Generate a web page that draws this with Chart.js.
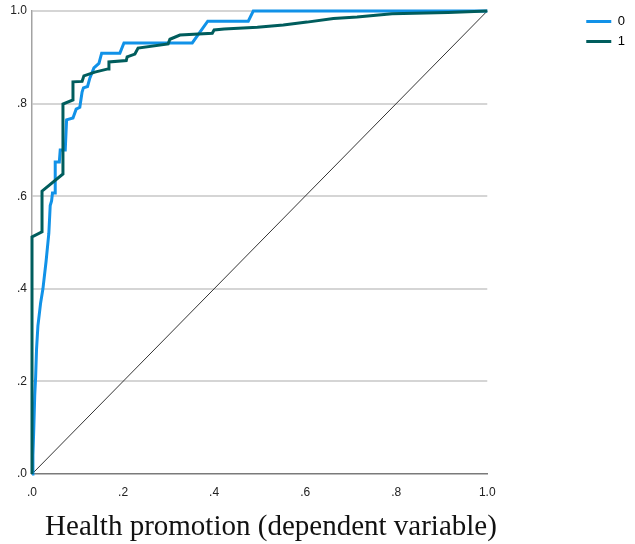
<!DOCTYPE html>
<html>
<head>
<meta charset="utf-8">
<script src="https://cdn.jsdelivr.net/npm/chart.js@4/dist/chart.umd.min.js"></script>
<style>
  html, body { margin: 0; padding: 0; background: #fff; }
  #wrap { position: relative; width: 635px; height: 544px; }
  #roc { position: absolute; left: 0; top: 0; }
  #caption {
    position: absolute; left: 0; top: 511px; width: 542px;
    text-align: center; white-space: nowrap;
    font-family: "Liberation Serif", "Times New Roman", serif;
    font-size: 29px; line-height: 28px; color: #111;
  }
</style>
</head>
<body>
<div id="wrap">
  <canvas id="roc" width="635" height="544"></canvas>
  <div id="caption">Health promotion (dependent variable)</div>
</div>
<script>
// ROC curves: 1 - specificity (x) against sensitivity (y) for each group
const seriesNames = ['0', '1'];

const fpr0 = [0, 0.002, 0.004, 0.006, 0.008, 0.010, 0.013, 0.019, 0.024, 0.031, 0.037, 0.040, 0.043, 0.045,
  0.051, 0.051, 0.060, 0.062, 0.073, 0.076, 0.090, 0.097, 0.105, 0.110, 0.113, 0.122, 0.127, 0.136,
  0.147, 0.153, 0.193, 0.202, 0.352, 0.386, 0.475, 0.486, 1];
const tpr0 = [0, 0.04, 0.10, 0.17, 0.21, 0.27, 0.32, 0.37, 0.40, 0.46, 0.52, 0.58, 0.59, 0.607,
  0.607, 0.674, 0.674, 0.70, 0.70, 0.765, 0.769, 0.788, 0.792, 0.825, 0.834, 0.837, 0.855, 0.877,
  0.887, 0.909, 0.909, 0.931, 0.931, 0.978, 0.978, 1.0, 1];

const fpr1 = [0, 0, 0.022, 0.022, 0.068, 0.068, 0.090, 0.090, 0.110, 0.114, 0.138, 0.167, 0.169, 0.207,
  0.209, 0.226, 0.233, 0.299, 0.303, 0.325, 0.396, 0.400, 0.422, 0.495, 0.552, 0.604, 0.662, 0.714,
  0.791, 0.914, 1];
const tpr1 = [0, 0.512, 0.523, 0.611, 0.648, 0.799, 0.808, 0.847, 0.848, 0.860, 0.868, 0.875, 0.890, 0.893,
  0.901, 0.907, 0.920, 0.929, 0.939, 0.948, 0.952, 0.959, 0.961, 0.965, 0.970, 0.976, 0.984, 0.987,
  0.994, 0.997, 1];

// reference line of no discrimination
const refX = [0, 1];
const refY = [0, 1];

const xTickLabels = ['.0', '.2', '.4', '.6', '.8', '1.0'];
const yTickLabels = ['.0', '.2', '.4', '.6', '.8', '1.0'];

const toPoints = (xs, ys) => xs.map((x, i) => ({ x: x, y: ys[i] }));

const tickFont = { family: '"Liberation Sans", Arial, sans-serif', size: 12 };

new Chart(document.getElementById('roc'), {
  type: 'line',
  data: {
    datasets: [
      {
        label: seriesNames[0],
        data: toPoints(fpr0, tpr0),
        borderColor: '#1192e8',
        backgroundColor: '#1192e8',
        borderWidth: 3,
        order: 2
      },
      {
        label: seriesNames[1],
        data: toPoints(fpr1, tpr1),
        borderColor: '#005d5d',
        backgroundColor: '#005d5d',
        borderWidth: 3,
        order: 1
      },
      {
        label: 'reference',
        data: toPoints(refX, refY),
        borderColor: '#333333',
        borderWidth: 1,
        order: 3
      }
    ]
  },
  options: {
    responsive: false,
    animation: false,
    devicePixelRatio: 1,
    layout: { padding: { top: 8, left: 0, right: 0, bottom: 0 } },
    elements: {
      point: { radius: 0, hoverRadius: 0 },
      line: { tension: 0, fill: false, borderCapStyle: 'butt', borderJoinStyle: 'miter' }
    },
    datasets: { line: { clip: 6 } },
    scales: {
      x: {
        type: 'linear',
        min: 0,
        max: 1,
        grid: { display: false },
        border: { display: true, color: '#7a7a7a', width: 1.5 },
        ticks: {
          stepSize: 0.2,
          padding: 3,
          color: '#222',
          font: tickFont,
          maxRotation: 0,
          callback: (v, i) => xTickLabels[i]
        },
        afterFit: (s) => { s.height = 70; }
      },
      y: {
        type: 'linear',
        min: 0,
        max: 1,
        grid: {
          drawTicks: false,
          lineWidth: 2,
          color: (ctx) => (ctx.index === 0 ? 'rgba(0,0,0,0)' : '#d5d5d5')
        },
        border: { display: true, color: '#a3a3a3', width: 1.5 },
        ticks: {
          stepSize: 0.2,
          padding: 5,
          color: '#222',
          font: tickFont,
          callback: (v, i) => yTickLabels[i]
        },
        afterFit: (s) => { s.width = 32; s.paddingTop = 11; }
      },
      // empty band between the plot and the legend
      gap: {
        type: 'linear',
        position: 'right',
        display: true,
        grid: { display: false },
        border: { display: false },
        ticks: { display: false },
        afterFit: (s) => { s.width = 92; }
      }
    },
    plugins: {
      legend: {
        position: 'right',
        align: 'start',
        labels: {
          boxWidth: 25,
          boxHeight: 3,
          padding: 7,
          color: '#333',
          font: { family: '"Liberation Sans", Arial, sans-serif', size: 13 },
          generateLabels: (chart) => chart.data.datasets.slice(0, 2).map((ds, i) => ({
            text: ds.label,
            fillStyle: ds.borderColor,
            strokeStyle: ds.borderColor,
            lineWidth: 0,
            hidden: false,
            datasetIndex: i
          }))
        }
      },
      title: { display: false },
      tooltip: { enabled: false }
    }
  }
});
</script>
</body>
</html>
